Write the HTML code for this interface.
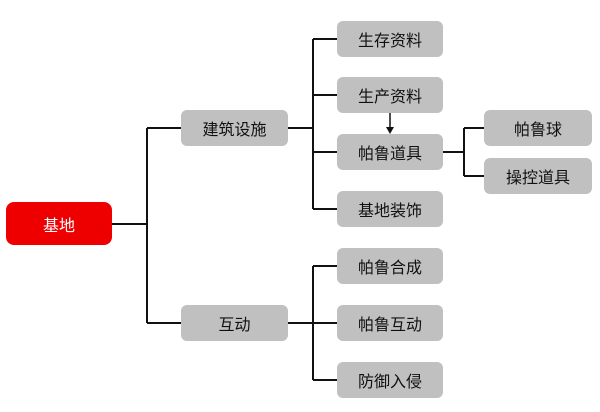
<!DOCTYPE html>
<html><head><meta charset="utf-8"><style>
body{margin:0;width:600px;height:412px;background:#fff;position:relative;overflow:hidden;font-family:"Liberation Sans","Noto Sans CJK SC",sans-serif}
.b{position:absolute;background:#c0c0c0;border-radius:6px;display:flex;align-items:center;justify-content:center;font-size:16px;color:#111}
</style></head><body>
<svg width="600" height="412" style="position:absolute;left:0;top:0" stroke="#111" stroke-width="2" fill="none">
<path d="M112 224H147M147 128V323M147 128H181M147 323H181"/>
<path d="M288 128H313M313 39V209M313 39H337M313 95H337M313 152H337M313 209H337"/>
<path d="M288 323H313M313 266V380M313 266H337M313 380H337M313 323H337"/>
<path d="M443 152H464M464 128V176M464 128H484M464 176H484"/>
<path d="M390 113V128" stroke-width="1.5"/>
<path d="M386 127L390 134L394 127Z" fill="#111" stroke="none"/>
</svg>
<div class="b" style="left:6px;top:202px;width:106px;height:43px;background:#ee0000;color:#fff;border-radius:8px">基地</div>
<div class="b" style="left:181px;top:110px;width:107px;height:36px">建筑设施</div>
<div class="b" style="left:181px;top:305px;width:107px;height:36px">互动</div>
<div class="b" style="left:337px;top:21px;width:106px;height:36px">生存资料</div>
<div class="b" style="left:337px;top:77px;width:106px;height:36px">生产资料</div>
<div class="b" style="left:337px;top:134px;width:106px;height:36px">帕鲁道具</div>
<div class="b" style="left:337px;top:191px;width:106px;height:36px">基地装饰</div>
<div class="b" style="left:337px;top:248px;width:106px;height:36px">帕鲁合成</div>
<div class="b" style="left:337px;top:305px;width:106px;height:36px">帕鲁互动</div>
<div class="b" style="left:337px;top:362px;width:106px;height:36px">防御入侵</div>
<div class="b" style="left:484px;top:110px;width:108px;height:36px">帕鲁球</div>
<div class="b" style="left:484px;top:158px;width:108px;height:36px">操控道具</div>
</body></html>
